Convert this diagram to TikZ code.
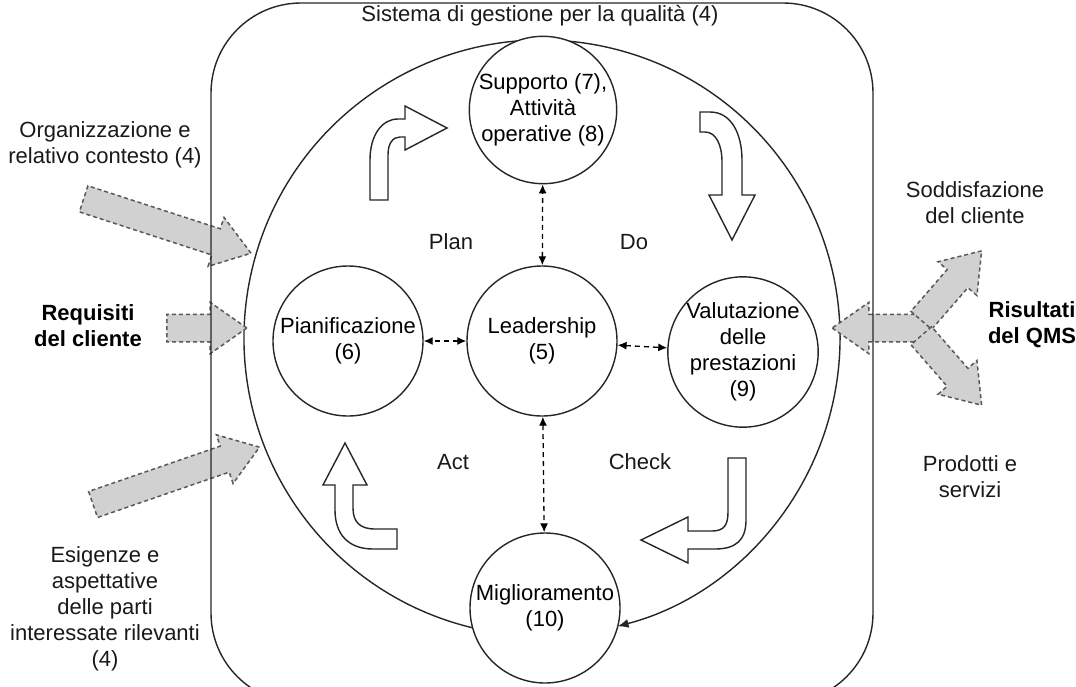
\documentclass[tikz,border=0pt]{standalone}
\usepackage{fontspec}
\setmainfont{Liberation Sans}
\usepackage{tikz}
\usetikzlibrary{arrows.meta,shapes.arrows}

\begin{document}
\begin{tikzpicture}[x=1pt, y=-1pt,
phase/.style={draw=black!85, circle, line width=1.4pt, minimum size=150pt, inner sep=0pt, align=center, fill=white},
link/.style={dashed, dash pattern=on 5pt off 4pt, line width=1.3pt, {Latex[length=9pt,width=8pt]}-{Latex[length=9pt,width=8pt]}},
inflow/.style={single arrow, draw=black!65, dash pattern=on 4pt off 3pt, line width=1.5pt, fill=black!18, inner xsep=0pt, inner ysep=13pt, single arrow head extend=12pt, single arrow tip angle=70},
turnarrow/.style={draw=black!85, fill=white, line width=1.4pt},
note/.style={align=center, text=black!90},
strong/.style={align=center, font=\fontsize{22}{26}\selectfont\bfseries}
]
\useasboundingbox (0,0) rectangle (1076,686);
\tikzset{every node/.append style={font=\fontsize{22}{26}\selectfont}}

% cerchio esterno (ciclo PDCA)
\coordinate (hub) at (542,338);
\draw[line width=1.4pt, draw=black!85, -{Latex[length=11pt,width=9pt]}] (hub) ++(103.4:298) arc[start angle=103.4, end angle=435.3, radius=298];

\node[phase] (lead) at (542,341) {Leadership\\(5)};
\node[phase] (pian) at (348,341) {Pianificazione\\(6)};
\node[phase] (valu) at (743,352) {Valutazione\\delle\\prestazioni\\(9)};
\node[phase, minimum size=146pt] (supp) at (543,110) {Supporto (7),\\Attività\\operative (8)};
\node[phase] (migl) at (545,608) {Miglioramento\\(10)};

\draw[link] (lead) -- (pian);
\draw[link] (lead) -- (valu);
\draw[link] (lead) -- (supp);
\draw[link] (lead) -- (migl);

\node[note] (plan) at (451,242) {Plan};
\node[note] (do) at (634,242) {Do};
\node[note] (act) at (453,462) {Act};
\node[note] (check) at (640,462) {Check};

% frecce curve
\draw[turnarrow] (370,200) -- (370,160) .. controls (370,135) and (382,119) .. (398,119) -- (405,119) -- (405,106) -- (447,128) -- (405,150) -- (405,137) -- (400,137) .. controls (393,137) and (388,143) .. (388,155) -- (388,200) -- cycle;
\draw[turnarrow] (700,112) -- (710,112) .. controls (732,112) and (742,135) .. (742,160) -- (742,195) -- (755,195) -- (732,240) -- (709,195) -- (722,195) -- (722,162) .. controls (722,145) and (716,132) .. (705,132) -- (700,132) -- cycle;
\draw[turnarrow] (746,458) -- (746,520) .. controls (746,540) and (736,549) .. (715,549) -- (688,549) -- (688,563) -- (641,540) -- (688,517) -- (688,531) -- (712,531) .. controls (724,531) and (728,525) .. (728,512) -- (728,458) -- cycle;
\draw[turnarrow] (345,443) -- (367,485) -- (353,485) -- (353,508) .. controls (353,522) and (360,529) .. (375,529) -- (397,529) -- (397,549) -- (373,549) .. controls (349,549) and (335,535) .. (335,510) -- (335,485) -- (323,485) -- cycle;

% frecce grigie in ingresso e in uscita
\node[inflow, minimum height=176pt, rotate=-18] (org) at (158,223) {};
\node[inflow, minimum height=80pt] (req) at (197,328) {};
\node[inflow, minimum height=176pt, rotate=19] (esi) at (167,479) {};
\node[inflow, minimum height=98pt, rotate=180] (res) at (891,328) {};
\node[inflow, minimum height=92pt, rotate=49] (sod) at (945,293) {};
\node[inflow, minimum height=92pt, rotate=-49] (pro) at (945,363) {};

% sistema di gestione
\draw[line width=1.4pt, draw=black!85, rounded corners=90pt] (211,3) rectangle (873,703);
\node[note] (qms) at (540,16) {Sistema di gestione per la qualità (4)};

\node[note] (org-t) at (105,145) {Organizzazione e\\relativo contesto (4)};
\node[strong] (req-t) at (88,326) {Requisiti\\del cliente};
\node[note] (esi-t) at (105,609) {Esigenze e\\aspettative\\delle parti\\interessate rilevanti\\(4)};
\node[note] (sod-t) at (975,203) {Soddisfazione\\del cliente};
\node[strong] (ris-t) at (1032,325) {Risultati\\del QMS};
\node[note] (pro-t) at (970,477) {Prodotti e\\servizi};
\end{tikzpicture}
\end{document}
